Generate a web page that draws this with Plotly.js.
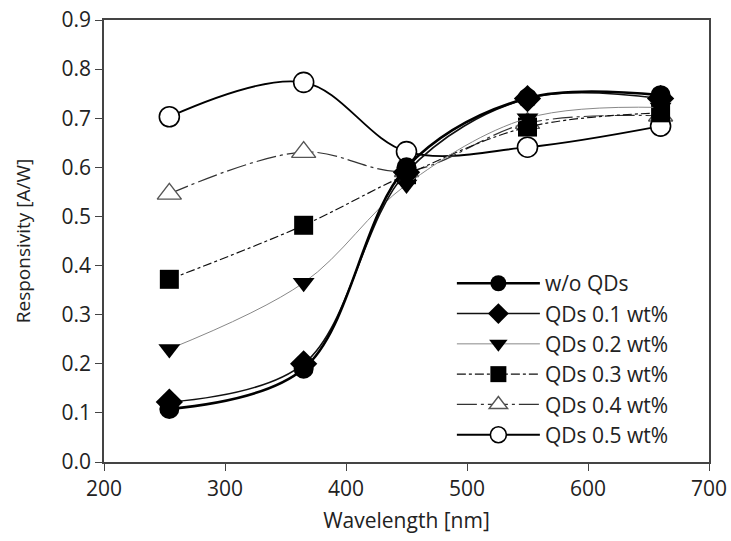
<!DOCTYPE html>
<html><head><meta charset="utf-8">
<script src="https://cdn.plot.ly/plotly-3.0.1.min.js"></script>
<style>body{margin:0;background:#fff}#chart{width:731px;height:541px}</style>
</head><body><div id="chart"></div>
<script>
const wavelength = [254, 365, 450, 550, 660];
const seriesNames = ["w/o QDs", "QDs 0.1 wt%", "QDs 0.2 wt%", "QDs 0.3 wt%", "QDs 0.4 wt%", "QDs 0.5 wt%"];
const woQDs   = [0.108, 0.190, 0.600, 0.741, 0.747];
const qd01    = [0.122, 0.200, 0.590, 0.740, 0.740];
const qd02    = [0.230, 0.365, 0.565, 0.700, 0.722];
const qd03    = [0.372, 0.482, 0.585, 0.682, 0.711];
const qd04    = [0.546, 0.631, 0.592, 0.690, 0.705];
const qd05    = [0.703, 0.773, 0.632, 0.641, 0.684];
const xTicks = [200, 300, 400, 500, 600, 700];
const yTicks = [0.0, 0.1, 0.2, 0.3, 0.4, 0.5, 0.6, 0.7, 0.8, 0.9];

const values = [woQDs, qd01, qd02, qd03, qd04, qd05];
const styles = [
  {line:{color:'#000', width:2.6, dash:'solid'}, marker:{symbol:'circle', size:20, color:'#000'}},
  {line:{color:'#111', width:1.6, dash:'solid'}, marker:{symbol:'diamond', size:21, color:'#000'}},
  {line:{color:'#888', width:1, dash:'solid'}, marker:{symbol:'triangle-down', size:19, color:'#000'}},
  {line:{color:'#111', width:1.2, dash:'dashdot'}, marker:{symbol:'square', size:19, color:'#000'}},
  {line:{color:'#333', width:1.2, dash:'20px,4px,3px,4px'}, marker:{symbol:'triangle-up', size:21, color:'#fff', line:{color:'#555', width:1.4}}},
  {line:{color:'#000', width:1.8, dash:'solid'}, marker:{symbol:'circle', size:20, color:'#fff', line:{color:'#000', width:1.6}}}
];
const traces = [];
for (let i = values.length - 1; i >= 0; i--) {
  traces.push({
    x: wavelength, y: values[i], name: seriesNames[i], type: 'scatter', mode: 'lines+markers',
    line: Object.assign({shape:'spline', smoothing:1}, styles[i].line),
    marker: styles[i].marker, legendgroup: 'g'+i
  });
}
const layout = {
  width: 731, height: 541,
  margin: {l:104, r:22, t:20, b:79},
  paper_bgcolor:'#fff', plot_bgcolor:'#fff',
  font: {family:'"Open Sans", "Noto Sans", sans-serif', color:'#222', size:21},
  showlegend: true,
  legend: {x: 0.575, y: 0.45, xanchor:'left', yanchor:'top', traceorder:'reversed', tracegroupgap: 2,
           bgcolor:'rgba(0,0,0,0)', font:{size:21, color:'#222'}, itemwidth: 83},
  xaxis: {range:[200,700], tickvals:xTicks, ticktext:xTicks.map(String), ticks:'outside', ticklen:7, tickcolor:'#444',
          tickfont:{size:21},
          showline:true, linecolor:'#444', linewidth:1.5, mirror:true, showgrid:false, zeroline:false,
          title:{text:'Wavelength [nm]', font:{size:21}, standoff:12}},
  yaxis: {range:[0,0.9], tickvals:yTicks, ticktext:yTicks.map(v=>v.toFixed(1)), ticks:'outside', ticklen:7, tickcolor:'#444',
          tickfont:{size:21},
          showline:true, linecolor:'#444', linewidth:1.5, mirror:true, showgrid:false, zeroline:false,
          title:{text:'Responsivity [A/W]', font:{size:19}, standoff:26}}
};
Plotly.newPlot('chart', traces, layout, {displayModeBar:false});
</script></body></html>
